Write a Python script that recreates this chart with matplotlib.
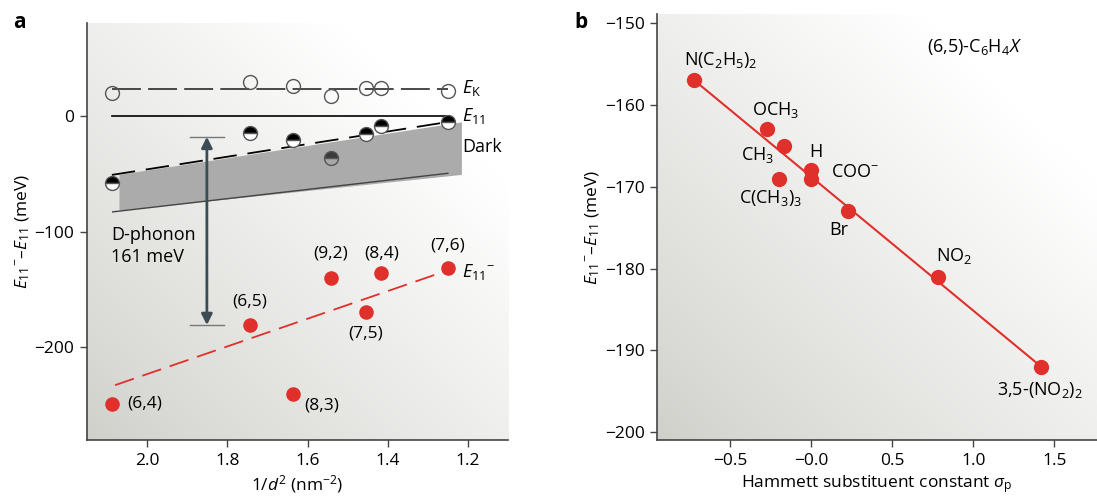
import numpy as np
import matplotlib
matplotlib.use('Agg')
import matplotlib.pyplot as plt

plt.rcParams['font.family'] = ['Open Sans', 'DejaVu Sans']
plt.rcParams['mathtext.fontset'] = 'custom'
plt.rcParams['mathtext.rm'] = 'Open Sans'
plt.rcParams['mathtext.it'] = 'Open Sans:italic'
plt.rcParams['mathtext.bf'] = 'Open Sans:bold'
plt.rcParams['font.size'] = 12

# ---- panel a data ----
inv_d2 = [2.088, 1.744, 1.635, 1.542, 1.455, 1.416, 1.25]
chirality = ['(6,4)', '(6,5)', '(8,3)', '(9,2)', '(7,5)', '(8,4)', '(7,6)']
e_k = [19.6, 29.7, 26, 17.6, 24.5, 24.5, 22]
e_dark = [-57.7, -15, -20.8, -36.6, -15.9, -8.7, -4.9]
e_trion = [-249, -181, -241, -140, -170, -136, -132]

ek_line_x = [2.088, 1.25]
ek_line_y = [23.4, 23.4]
e11_line_x = [2.088, 1.25]
dark_line_x = [2.088, 1.25]
dark_line_y = [-51, -5.2]
band_x = [2.069, 1.215, 1.215, 2.069]
band_y = [-51, -5.5, -51, -82]
band_low_x = [2.086, 1.25]
band_low_y = [-83, -49.6]
trion_fit_x = [2.08, 1.27]
trion_fit_y = [-233, -136]
phonon_x = 1.851
phonon_top, phonon_bottom = -18, -181

# ---- panel b data ----
substituent = ['N(C$_2$H$_5$)$_2$', 'OCH$_3$', 'CH$_3$', 'C(CH$_3$)$_3$', 'H',
               'COO$^{-}$', 'Br', 'NO$_2$', '3,5-(NO$_2$)$_2$']
sigma_p = [-0.72, -0.27, -0.17, -0.20, 0.0, 0.0, 0.23, 0.78, 1.42]
e_shift = [-157, -163, -165, -169, -168, -169, -173, -181, -192]
label_x = [-0.56, -0.22, -0.33, -0.25, 0.03, 0.27, 0.17, 0.88, 1.41]
label_y = [-154.5, -160.6, -166.1, -171.4, -165.7, -168.2, -175.3, -178.5, -194.8]
fit_x = [-0.72, 1.42]
fit_y = [-157, -192]

red = '#e0302c'
dark = '#3a3a3a'


def gradient_bg(ax):
    u, v = np.meshgrid(np.linspace(0, 1, 300), np.linspace(0, 1, 300))
    t = np.clip((u + v) / 1.6, 0, 1) ** 0.9
    lo = np.array([208, 208, 203]) / 255
    hi = np.array([1.0, 1.0, 1.0])
    img = lo[None, None, :] + (hi - lo)[None, None, :] * t[:, :, None]
    ax.imshow(img, extent=[0, 1, 0, 1], transform=ax.transAxes, origin='lower',
              aspect='auto', zorder=0)


def style_axes(ax):
    for s in ['top', 'right']:
        ax.spines[s].set_visible(False)
    for s in ['left', 'bottom']:
        ax.spines[s].set_color('#444444')
        ax.spines[s].set_linewidth(1.2)
    ax.tick_params(direction='out', length=5, width=1, color='#444444',
                   labelsize=12.5, pad=4)


fig = plt.figure(figsize=(10.97, 4.99), dpi=100)

# ================= panel a =================
ax = fig.add_axes([0.0793, 0.1182, 0.3838, 0.8357])
gradient_bg(ax)
style_axes(ax)
ax.set_xlim(2.15, 1.10)
ax.set_ylim(-280.5, 80.5)
ax.set_xticks([2.0, 1.8, 1.6, 1.4, 1.2])
ax.set_xticklabels(['2.0', '1.8', '1.6', '1.4', '1.2'])
ax.set_yticks([0, -100, -200])
ax.set_yticklabels(['0', '\u2212100', '\u2212200'])

ax.fill(band_x, band_y, color='#ababab', zorder=1, lw=0)
ax.plot(band_low_x, band_low_y, color='#444444', lw=1, zorder=2)

ax.plot(ek_line_x, ek_line_y, color=dark, lw=1.3, dashes=(16, 4), zorder=2)
ax.plot(e11_line_x, [0, 0], color='black', lw=1.2, zorder=2)
ax.plot(dark_line_x, dark_line_y, color='black', lw=1.3, dashes=(13, 6), zorder=2)
ax.plot(trion_fit_x, trion_fit_y, color=red, lw=1.3, dashes=(11, 5), zorder=2)

ax.plot(inv_d2, e_k, 'o', ms=10, mfc='none', mec='#555555', mew=1, zorder=3)
for i, (x, y) in enumerate(zip(inv_d2, e_dark)):
    top = '#3a3a3a' if i == 3 else 'black'
    bot = '#a8a8a8' if i == 3 else 'white'
    ax.plot(x, y, 'o', ms=10, fillstyle='top', mfc=top, mfcalt=bot,
            mec='#555555', mew=1, zorder=3)
ax.plot(inv_d2, e_trion, 'o', ms=10.5, color=red, mec='none', zorder=3)

# D-phonon arrow
ax.plot([phonon_x + 0.042, phonon_x - 0.042], [phonon_top, phonon_top],
        color='#777777', lw=1, zorder=2)
ax.plot([phonon_x + 0.042, phonon_x - 0.042], [phonon_bottom, phonon_bottom],
        color='#777777', lw=1, zorder=2)
ax.annotate('', xy=(phonon_x, phonon_top), xytext=(phonon_x, phonon_bottom),
            arrowprops=dict(arrowstyle='<|-|>', color='#3d4b55', lw=2,
                            mutation_scale=16, shrinkA=0, shrinkB=0), zorder=4)
ax.text(2.09, -103, 'D-phonon', fontsize=13, va='center', ha='left')
ax.text(2.09, -122, '161 meV', fontsize=13, va='center', ha='left')

# chirality labels
offsets = {
    '(6,4)': (2.05, -249, 'left', 'center'),
    '(6,5)': (1.744, -161, 'center', 'center'),
    '(8,3)': (1.607, -251, 'left', 'center'),
    '(9,2)': (1.542, -119, 'center', 'center'),
    '(7,5)': (1.455, -188, 'center', 'center'),
    '(8,4)': (1.416, -119, 'center', 'center'),
    '(7,6)': (1.25, -112, 'center', 'center'),
}
for lab in chirality:
    x, y, ha, va = offsets[lab]
    ax.text(x, y, lab, fontsize=12.5, ha=ha, va=va)

ax.text(1.215, 24, '$E_{\\mathrm{K}}$', fontsize=13, va='center', ha='left')
ax.text(1.215, 0, '$E_{11}$', fontsize=13, va='center', ha='left')
ax.text(1.213, -27, 'Dark', fontsize=13, va='center', ha='left')
ax.text(1.215, -135, '$E_{11}{}^{-}$', fontsize=13, va='center', ha='left')

ax.set_xlabel('1/$d^2$ (nm$^{-2}$)', fontsize=12.5, labelpad=3)
ax.set_ylabel('$E_{11}{}^{-}$\u2013$E_{11}$ (meV)', fontsize=12.5, labelpad=2)
fig.text(0.012, 0.955, 'a', fontsize=15, fontweight='bold', va='center')

# ================= panel b =================
bx = fig.add_axes([0.5992, 0.1182, 0.4008, 0.8537])
gradient_bg(bx)
style_axes(bx)
bx.set_xlim(-0.948, 1.763)
bx.set_ylim(-200.94, -148.9)
bx.set_xticks([-0.5, 0.0, 0.5, 1.0, 1.5])
bx.set_xticklabels(['\u22120.5', '\u22120.0', '0.5', '1.0', '1.5'])
bx.set_yticks([-150, -160, -170, -180, -190, -200])
bx.set_yticklabels(['\u2212150', '\u2212160', '\u2212170', '\u2212180', '\u2212190', '\u2212200'])

bx.plot(fit_x, fit_y, color=red, lw=1.5, zorder=2)
bx.plot(sigma_p, e_shift, 'o', ms=11, color=red, mec='none', zorder=3)
for lab, x, y in zip(substituent, label_x, label_y):
    bx.text(x, y, lab, fontsize=13, ha='center', va='center')
bx.text(1.01, -152.9, '(6,5)-C$_6$H$_4$$X$', fontsize=13, ha='center', va='center')

bx.set_xlabel('Hammett substituent constant $\\sigma_{\\mathrm{p}}$', fontsize=12.5, labelpad=3)
bx.set_ylabel('$E_{11}{}^{-}$\u2013$E_{11}$ (meV)', fontsize=12.5, labelpad=2)
fig.text(0.524, 0.955, 'b', fontsize=15, fontweight='bold', va='center')

fig.savefig('out.png', dpi=100)
